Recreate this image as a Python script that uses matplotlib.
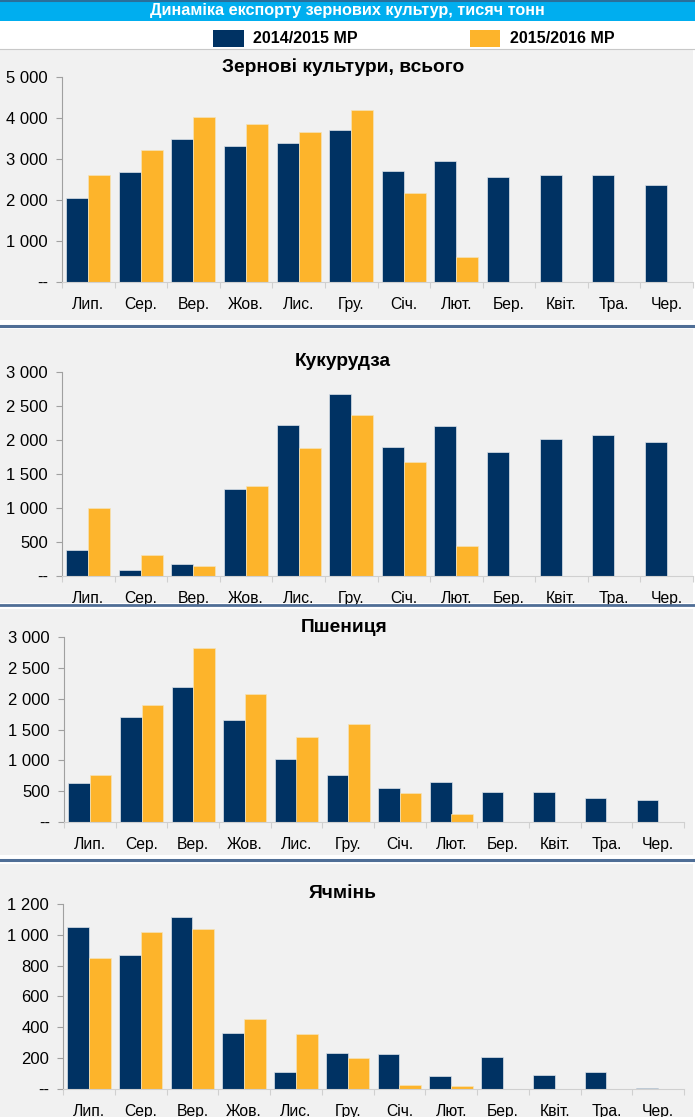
import matplotlib
matplotlib.use("Agg")
import matplotlib.pyplot as plt
from matplotlib.patches import Rectangle
from matplotlib.lines import Line2D
from matplotlib.ticker import FuncFormatter, FixedLocator

plt.rcParams["font.family"] = ["Liberation Sans", "DejaVu Sans"]

# data (thousand tonnes)
months = ["Лип.", "Сер.", "Вер.", "Жов.", "Лис.", "Гру.", "Січ.", "Лют.", "Бер.", "Квіт.", "Тра.", "Чер."]
grain_1415 = [2055, 2675, 3480, 3315, 3390, 3705, 2715, 2950, 2560, 2615, 2600, 2365]
grain_1516 = [2615, 3225, 4025, 3860, 3650, 4205, 2180, 600]
corn_1415 = [375, 90, 170, 1275, 2220, 2680, 1900, 2210, 1830, 2015, 2080, 1970]
corn_1516 = [995, 305, 150, 1320, 1880, 2375, 1670, 435]
wheat_1415 = [625, 1705, 2185, 1660, 1020, 765, 550, 645, 490, 485, 390, 355]
wheat_1516 = [765, 1895, 2825, 2070, 1375, 1595, 460, 120]
barley_1415 = [1050, 870, 1115, 365, 110, 235, 225, 80, 205, 88, 110, 4]
barley_1516 = [850, 1020, 1040, 450, 355, 200, 22, 20]

main_title = "Динаміка експорту зернових культур, тисяч тонн"
series_names = ["2014/2015 МР", "2015/2016 МР"]

NAVY = "#003263"
ORANGE = "#FDB42B"
PANEL = "#F1F1F1"
SEP = "#4F6E96"

W, H = 695, 1117
fig = plt.figure(figsize=(W / 100, H / 100), dpi=100)
fig.patch.set_facecolor("white")


def fx(x):
    return x / W


def fy(y):
    return 1 - y / H


def rect(x0, y0, x1, y1, color, z=-1):
    fig.add_artist(Rectangle((fx(x0), fy(y1)), fx(x1 - x0), (y1 - y0) / H,
                             transform=fig.transFigure, facecolor=color,
                             edgecolor="none", zorder=z))


def hline(y, color, lw, z=5):
    fig.add_artist(Line2D([0, 1], [fy(y), fy(y)], transform=fig.transFigure,
                          color=color, lw=lw, zorder=z))


# banner + legend row
rect(0, 0, W, 21, "#00AEEF")
fig.text(fx(347), fy(15), main_title, color="white", fontsize=11.7,
         fontweight="bold", ha="center", va="baseline",
         family=["Liberation Sans Narrow", "Liberation Sans"])
hline(0.8, "#2A6F9A", 1.5)
rect(213, 30, 244, 47, NAVY, z=3)
fig.text(fx(253), fy(38.5), series_names[0], fontsize=11.5, fontweight="bold", va="center")
rect(470, 30, 500, 47, ORANGE, z=3)
fig.text(fx(510), fy(38.5), series_names[1], fontsize=11.5, fontweight="bold", va="center")
hline(48.5, "#C8C8C8", 0.8)

# panel backgrounds
rect(0, 49, 693, 320, PANEL)
rect(0, 329, 693, 603, PANEL)
rect(0, 609, 693, 855, PANEL)
rect(0, 864, 693, H, PANEL)
hline(325.5, SEP, 2.2)
hline(605, SEP, 2.0)
hline(859.5, SEP, 2.2)
# cover cut-off labels of the corn panel
rect(0, 606, W, 609, "white", z=4)
rect(0, 609, 693, 614, PANEL, z=4)


def fmt(v, pos):
    if v == 0:
        return "--"
    return f"{v:,.0f}".replace(",", " ")


def panel(left, right, top, bottom, ymax, step, d1, d2, title, tx, ty):
    ax = fig.add_axes([fx(left), fy(bottom), fx(right - left), (bottom - top) / H])
    ax.set_facecolor("none")
    w = 0.418
    x1 = [i - w / 2 for i in range(len(d1))]
    x2 = [i + w / 2 for i in range(len(d2))]
    ax.bar(x1, d1, width=w, color=NAVY, edgecolor="#DDE3EA", linewidth=0.5)
    ax.bar(x2, d2, width=w, color=ORANGE, edgecolor="#F5E3B8", linewidth=0.5)
    ax.set_xlim(-0.5, 11.5)
    ax.set_ylim(0, ymax)
    ax.set_yticks(list(range(0, ymax + 1, step)))
    ax.yaxis.set_major_formatter(FuncFormatter(fmt))
    ax.set_xticks(range(12))
    ax.set_xticklabels(months)
    ax.xaxis.set_minor_locator(FixedLocator([i - 0.5 for i in range(13)]))
    ax.tick_params(axis="x", which="major", length=0, pad=11, labelsize=11.3)
    ax.tick_params(axis="x", which="minor", length=4, color="#D0D0D0", width=0.8)
    ax.tick_params(axis="y", length=4, color="#A0A0A0", width=0.8, pad=6, labelsize=12)
    for s in ["top", "right"]:
        ax.spines[s].set_visible(False)
    ax.spines["left"].set_color("#A0A0A0")
    ax.spines["bottom"].set_color("#D0D0D0")
    ax.spines["left"].set_linewidth(0.8)
    ax.spines["bottom"].set_linewidth(0.8)
    fig.text(fx(tx), fy(ty), title, fontsize=13.8, fontweight="bold",
             ha="center", va="center")
    return ax


panel(62, 693, 77, 282, 5000, 1000, grain_1415, grain_1516,
      "Зернові культури, всього", 343, 67)
panel(62, 693, 372.3, 575.7, 3000, 500, corn_1415, corn_1516,
      "Кукурудза", 343, 362)
panel(64, 684, 637.3, 821.7, 3000, 500, wheat_1415, wheat_1516,
      "Пшениця", 344, 628)
panel(63, 684, 904, 1088.7, 1200, 200, barley_1415, barley_1516,
      "Ячмінь", 343, 893)

fig.savefig("out.png", dpi=100)
